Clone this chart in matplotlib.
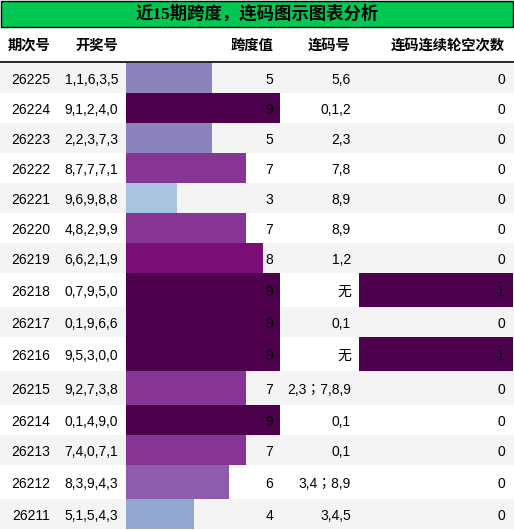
import matplotlib
matplotlib.use("Agg")
import matplotlib.pyplot as plt
from matplotlib.patches import Rectangle

# table data, newest issue first
issues = ["26225", "26224", "26223", "26222", "26221", "26220", "26219", "26218",
          "26217", "26216", "26215", "26214", "26213", "26212", "26211"]
draws = ["1,1,6,3,5", "9,1,2,4,0", "2,2,3,7,3", "8,7,7,7,1", "9,6,9,8,8",
         "4,8,2,9,9", "6,6,2,1,9", "0,7,9,5,0", "0,1,9,6,6", "9,5,3,0,0",
         "9,2,7,3,8", "0,1,4,9,0", "7,4,0,7,1", "8,3,9,4,3", "5,1,5,4,3"]
spans = [5, 9, 5, 7, 3, 7, 8, 9, 9, 9, 7, 9, 7, 6, 4]
consec = ["5,6", "0,1,2", "2,3", "7,8", "8,9", "8,9", "1,2", "无", "0,1", "无",
          "2,3；7,8,9", "0,1", "0,1", "3,4；8,9", "3,4,5"]
misses = [0, 0, 0, 0, 0, 0, 0, 1, 0, 1, 0, 0, 0, 0, 0]

title = "近15期跨度，连码图示图表分析"
headers = ["期次号", "开奖号", "跨度值", "连码号", "连码连续轮空次数"]

W, H = 514, 530
fam = ["Liberation Sans", "Noto Sans CJK SC"]
fam_tc = ["Liberation Sans", "Noto Sans CJK TC"]  # centred fullwidth semicolon
cmap = plt.get_cmap("BuPu")

# row layout (rows holding CJK text come out taller)
header_top, header_bot = 27, 62
row_h = [34 if any(ord(c) > 127 for c in s) else 30 for s in consec]
tops = []
y = header_bot + 1
for h in row_h:
    tops.append(y)
    y += h
centers = [t + h / 2 for t, h in zip(tops, row_h)]

fig = plt.figure(figsize=(W / 100, H / 100), dpi=100)

# background: bands, title box, header line
bg = fig.add_axes([0, 0, 1, 1])
bg.set_xlim(0, W)
bg.set_ylim(H, 0)
bg.axis("off")
for i, (t, h) in enumerate(zip(tops, row_h)):
    bg.add_patch(Rectangle((0, t), W, h, color="#f4f4f4" if i % 2 == 0 else "white", lw=0))
bg.add_patch(Rectangle((0.5, 0.5), W - 1.5, header_top - 1, facecolor="#00c853",
                       edgecolor="black", lw=1))
bg.plot([0, W], [header_bot, header_bot], color="black", lw=1.2)

# bar columns
def bar_column(x0, x1, values):
    ax = fig.add_axes([x0 / W, 0, (x1 - x0) / W, 1])
    ax.set_xlim(0, max(values))
    ax.set_ylim(H, 0)
    ax.axis("off")
    ax.patch.set_alpha(0)
    vmax = max(values)
    ax.barh(centers, values, height=row_h,
            color=[cmap(v / vmax) for v in values], linewidth=0)
    return ax

bar_column(126, 280, spans)
bar_column(359, 513, misses)

# text layer
tx = fig.add_axes([0, 0, 1, 1])
tx.set_xlim(0, W)
tx.set_ylim(H, 0)
tx.axis("off")
tx.patch.set_alpha(0)

tx.text(W / 2, 14, title, ha="center", va="center", fontsize=12.5,
        fontweight="bold", family=["Liberation Serif", "Noto Sans CJK SC"])

col_right = [50, 118, 273, 351, 505]
for x, h in zip(col_right, headers):
    tx.text(x, 46, h, ha="right", va="center", fontsize=10.3,
            fontweight="bold", family=fam)

for i, c in enumerate(centers):
    vals = [issues[i], draws[i], str(spans[i]), consec[i], str(misses[i])]
    for j, (x, v) in enumerate(zip(col_right, vals)):
        tx.text(x, c, v, ha="right", va="center_baseline", fontsize=10,
                color="black", family=fam_tc if j == 3 else fam)

fig.savefig("out.png", dpi=100)
